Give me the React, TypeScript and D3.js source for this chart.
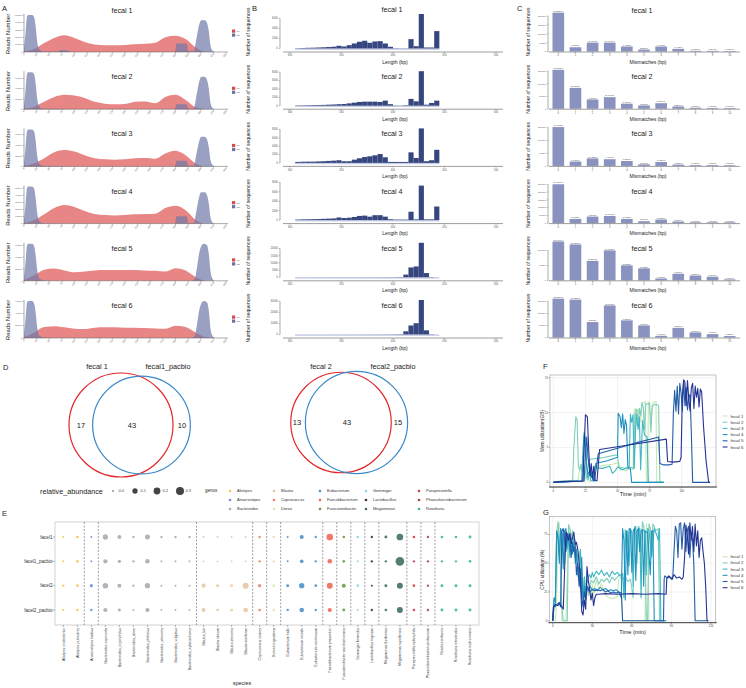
import React from "react";
import * as d3 from "d3";

const FONT = "'Liberation Sans', Arial, Helvetica, sans-serif";
const SAMPLES = ["fecal 1", "fecal 2", "fecal 3", "fecal 4", "fecal 5", "fecal 6"];
const rowAxis = (i: number) => 52 + 57.2 * i;
const rowTitle = (i: number) => (i === 0 ? 12.5 : rowAxis(i) - 30);

// ---------------- Panel A : reads number along position ----------------
const A_POS = [0, 20, 40, 60, 80, 100, 120, 140, 160, 180, 200, 220, 240, 260, 280, 300, 320, 340, 360, 380, 400];
const A_XTICKS = [0, 25, 50, 75, 100, 125, 150, 175, 200, 225, 250, 275, 300, 325, 350, 375, 400];
const A_YMAX = [50, 72, 70, 52, 62, 60]; // thousands
const A_R1 = [
  [1, 4, 12, 19, 22.5, 19, 13.5, 10, 9, 9, 9.5, 10.5, 11, 12.5, 20, 22, 17.5, 6, 0, 0, 0],
  [1.4, 5, 14.4, 23.8, 28, 26.6, 21.6, 14.4, 10.8, 9.4, 10, 14.4, 15, 11.5, 23.8, 28, 18, 3.6, 0, 0, 0],
  [1.4, 5.6, 15.4, 26.6, 30.8, 28, 21, 15.4, 13.3, 12.6, 13.3, 15.4, 16.1, 14.7, 24.5, 29.4, 21, 5.6, 0, 0, 0],
  [1, 4.7, 13, 21.8, 26, 23.4, 17.7, 13.5, 12, 11.4, 12, 13, 13.5, 14, 21.8, 25, 18.7, 5.2, 0, 0, 0],
  [1.2, 9.3, 18.6, 20.5, 17.4, 14.3, 15.5, 17.4, 18, 18, 18, 18, 17.4, 16.7, 15.5, 21, 17.4, 6.2, 0, 0, 0],
  [1.2, 9, 18, 19.2, 17.4, 15, 14.4, 16.8, 17.4, 17.4, 16.8, 16.8, 16.2, 15.6, 15, 19.8, 18, 9, 1.2, 0, 0],
];
const A_R2 = [
  [[0, 5], [3, 25], [6, 48], [8, 50], [16, 50], [20, 47], [23, 35], [26, 15], [29, 5], [34, 1.5], [40, 0.5], [65, 0.5], [72, 2.5], [85, 2.5], [92, 0.5], [100, 0], [299, 0], [302, 11.5], [322, 11.5], [325, 1], [336, 1], [342, 20], [347, 37], [351, 43], [358, 43], [362, 40], [366, 28], [369, 10], [373, 2], [378, 0], [400, 0]],
  [[0, 7], [3, 36], [6, 69], [8, 72], [16, 72], [20, 68], [23, 50], [26, 22], [29, 7], [34, 2], [40, 0.7], [100, 0], [299, 0], [302, 9.4], [322, 9.4], [325, 1], [336, 1], [342, 29], [347, 54], [351, 63], [358, 63], [362, 58], [366, 40], [369, 14], [373, 3], [378, 0], [400, 0]],
  [[0, 7], [3, 35], [6, 67], [8, 70], [16, 70], [20, 66], [23, 49], [26, 21], [29, 7], [34, 2], [40, 0.7], [100, 0], [299, 0], [302, 10.5], [322, 10.5], [325, 1], [336, 1], [342, 26], [347, 48], [351, 56], [358, 56], [362, 52], [366, 36], [369, 13], [373, 3], [378, 0], [400, 0]],
  [[0, 5], [3, 26], [6, 50], [8, 52], [16, 52], [20, 49], [23, 36], [26, 16], [29, 5], [34, 1.5], [40, 0.5], [100, 0], [299, 0], [302, 10.4], [322, 10.4], [325, 1], [336, 1], [342, 20], [347, 38], [351, 44], [358, 44], [362, 41], [366, 28], [369, 10], [373, 2], [378, 0], [400, 0]],
  [[0, 6], [3, 31], [6, 59], [8, 62], [16, 62], [20, 58], [23, 43], [26, 19], [29, 6], [34, 2], [40, 0.6], [100, 0], [330, 0], [338, 3], [343, 25], [347, 47], [351, 58], [356, 62], [362, 60], [366, 45], [369, 18], [373, 4], [378, 0], [400, 0]],
  [[0, 6], [3, 30], [6, 57], [8, 60], [16, 60], [20, 56], [23, 42], [26, 18], [29, 6], [34, 2], [40, 0.6], [100, 0], [330, 0], [338, 3], [343, 24], [347, 45], [351, 56], [356, 60], [362, 58], [366, 44], [369, 17], [373, 4], [378, 0], [400, 0]],
];
const A_LEGEND = ["R1", "R2"];

// ---------------- Panel B : length distribution ----------------
const B_XTICKS = [300, 350, 400, 450, 500];
const B_BINS = [305, 310, 315, 320, 325, 330, 335, 340, 345, 350, 355, 360, 365, 370, 375, 380, 385, 390, 395, 400, 405, 410, 415, 420, 425, 430, 435, 440];
const B_VALS = [
  [60, 100, 140, 160, 200, 240, 300, 360, 540, 400, 660, 1000, 1340, 1540, 1140, 1400, 1460, 1000, 340, 60, 40, 40, 1860, 460, 6860, 200, 200, 3460],
  [72, 96, 120, 145, 169, 193, 241, 289, 362, 410, 554, 723, 892, 964, 964, 964, 892, 1205, 362, 72, 48, 120, 1615, 1036, 8200, 241, 651, 1205],
  [234, 281, 304, 304, 351, 398, 468, 538, 632, 398, 398, 772, 1100, 1404, 1568, 1802, 2106, 1334, 234, 234, 234, 234, 2504, 1170, 8200, 398, 632, 3112],
  [110, 155, 177, 199, 221, 265, 309, 354, 553, 442, 508, 663, 884, 950, 729, 1039, 1039, 729, 177, 110, 110, 110, 1768, 155, 7300, 155, 155, 2873],
  [40, 40, 40, 50, 50, 50, 60, 60, 70, 70, 70, 80, 80, 90, 90, 100, 110, 120, 130, 150, 200, 1850, 6860, 7550, 24000, 2950, 210, 0],
  [40, 40, 40, 50, 50, 50, 60, 60, 70, 70, 80, 80, 90, 100, 110, 120, 130, 150, 170, 200, 300, 2860, 8070, 10160, 31000, 3730, 260, 0],
];
const B_STEP = [2000, 2000, 2000, 2000, 5000, 10000];
const B_TICKMAX = [6000, 8000, 8000, 8000, 20000, 30000];

// ---------------- Panel C : mismatches ----------------
const C_MISMATCH = [0, 1, 2, 3, 4, 5, 6, 7, 8, 9, 10];
const C_VALS = [
  [218500, 24000, 50000, 50000, 28000, 11000, 28000, 15000, 4000, 3500, 3000],
  [155000, 83000, 37000, 46000, 20000, 13000, 22000, 9000, 4000, 3000, 2500],
  [151000, 17000, 29000, 26000, 19000, 6000, 15000, 5000, 3000, 3000, 2500],
  [250000, 27000, 42000, 46000, 27000, 12000, 23000, 10000, 5000, 5000, 5000],
  [130000, 120000, 65000, 100000, 50000, 40000, 6000, 22000, 16000, 12000, 3000],
  [161000, 157000, 64000, 133000, 71000, 50000, 7000, 40000, 21000, 14000, 6000],
];

// ---------------- Panel D : Venn ----------------
const VENN_NAMES = [["fecal 1", "fecal1_pacbio"], ["fecal 2", "fecal2_pacbio"]];
const VENN_COUNTS = [[17, 43, 10], [13, 43, 15]];

// ---------------- Panel E : bubble plot ----------------
const E_SAMPLES = ["facel1", "facel1_pacbio", "facel2", "facel2_pacbio"];
const E_SPECIES = [
  "Alistipes onderdonkii", "Alistipes putredinis", "Anaerostipes hadrus", "Bacteroides coprocola", "Bacteroides_coprophilus",
  "Bacteroides_dorei", "Bacteroides_plebeius", "Bacteroides_stercoris", "Bacteroides_vulgatus", "Bacteroides_xylanisolvens",
  "Blautia_luti", "Blautia obeum", "Blautia stercoris", "Blautia wexlerae", "Coprococcus comes", "Dorea longicatena",
  "Eubacterium hallii", "Eubacterium rectale", "Eubacterium ventriosum", "Faecalibacterium prausnitzii",
  "Fusicatenibacter saccharivorans", "Gemmiger formicilis", "Lactobacillus rogosae", "Megamonas funiformis",
  "Megamonas rupellensis", "Paraprevotella xylaniphila", "Phascolarctobacterium faecium", "Roseburia faecis",
  "Roseburia intestinalis", "Roseburia inulinivorans",
];
const E_GENUS_OF = [
  "Alistipes", "Alistipes", "Anaerostipes", "Bacteroides", "Bacteroides", "Bacteroides", "Bacteroides", "Bacteroides", "Bacteroides", "Bacteroides",
  "Blautia", "Blautia", "Blautia", "Blautia", "Coprococcus", "Dorea", "Eubacterium", "Eubacterium", "Eubacterium", "Faecalibacterium",
  "Fusicatenibacter", "Gemmiger", "Lactobacillus", "Megamonas", "Megamonas", "Paraprevotella", "Phascolarctobacterium", "Roseburia", "Roseburia", "Roseburia",
];
const E_GENERA = [
  "Alistipes", "Anaerostipes", "Bacteroides", "Blautia", "Coprococcus", "Dorea", "Eubacterium", "Faecalibacterium",
  "Fusicatenibacter", "Gemmiger", "Lactobacillus", "Megamonas", "Paraprevotella", "Phascolarctobacterium", "Roseburia",
];
const E_GENUS_COLORS = [
  "#f3c744", "#7093dc", "#aaabb4", "#e6c6a2", "#f07f5f", "#e4e2b2", "#4b91c9", "#ee6a56",
  "#6b9a4e", "#91d1ee", "#4c2a44", "#41705f", "#d53a4a", "#a6464a", "#42b4a6",
];
const E_ABUND = [
  [0.001, 0.008, 0.001, 0.1, 0.042, 0.004, 0.085, 0.004, 0.004, 0.004, 0.0005, 0.0005, 0.0005, 0.0005, 0.004, 0.004, 0.001, 0.042, 0.004, 0.19, 0.008, 0.008, 0.004, 0.014, 0.19, 0.008, 0.004, 0.008, 0.008, 0.014],
  [0.001, 0.008, 0.001, 0.05, 0.02, 0.004, 0.065, 0.001, 0.001, 0.001, 0.0005, 0.0005, 0.0005, 0.0005, 0.004, 0.004, 0.001, 0.03, 0.004, 0.065, 0.008, 0.001, 0.004, 0.004, 0.36, 0.004, 0.004, 0.004, 0.004, 0.008],
  [0.004, 0.008, 0.02, 0.115, 0.042, 0.004, 0.1, 0.001, 0.001, 0.001, 0.05, 0.014, 0.008, 0.14, 0.02, 0.008, 0.014, 0.1, 0.008, 0.14, 0.042, 0.008, 0.001, 0.014, 0.14, 0.008, 0.004, 0.014, 0.014, 0.014],
  [0.001, 0.004, 0.008, 0.05, 0.014, 0.001, 0.05, 0.0005, 0.0005, 0.0005, 0.042, 0.008, 0.008, 0.065, 0.008, 0.008, 0.004, 0.065, 0.004, 0.05, 0.014, 0.001, 0.004, 0.008, 0.14, 0.008, 0.004, 0.014, 0.014, 0.014],
];
const E_SIZE_BREAKS = [0.0, 0.1, 0.2, 0.3];

// ---------------- Panels F / G : resource usage ----------------
const LINE_COLORS = ["#c7e9b4", "#7fcdbb", "#41b6c4", "#1d91c0", "#225ea8", "#253494"];
const F_XTICKS = [0, 25, 50, 75, 100];
const F_YTICKS = [0, 5, 10, 15];
const F_MEM = [
  [[0, 0], [5, 0.2], [16, 0.2], [19, 0.3], [20, 1.2], [21, 2.4], [22, 1.6], [23, 2.6], [24, 1.4], [25, 0.6], [27, 0.2], [29, 0.1], [30, 2.2], [38, 2.4], [46, 2.6], [51, 2.8], [52, 1.7], [54, 1.9], [56, 1.6], [58, 1.8], [60, 1.9], [62, 1.8], [63, 10.4], [64, 10.6], [65, 8.2], [66, 10.5], [67, 10.2], [68, 8.6], [69, 11.4], [70, 11.5], [71.5, 11.6], [72.5, 0], [73.5, 0], [74, 11.6], [76, 9.2], [78, 11.5], [80, 11.6], [80.5, 0], [86, 0]],
  [[0, 0], [8, 0.2], [15, 0.3], [16, 5], [17.5, 9.4], [18.5, 9.0], [19.5, 2.2], [20.5, 1.8], [21.5, 2.6], [22.5, 1.6], [24, 2.4], [26, 0.6], [28, 3.3], [40, 3.6], [48, 3.9], [50, 3.9], [51, 2.2], [54, 2.1], [57, 1.9], [60, 2.2], [62.5, 2.0], [63.5, 9.8], [65, 10.5], [66, 8.4], [67, 10.6], [68, 9.6], [69, 11.4], [70, 10.8], [71, 7.6], [72, 11.3], [74, 11.2], [75, 11.4], [76, 7.2], [77, 11.0], [80, 11.2], [82, 11.0], [83, 0], [86, 0]],
  [[0, 0], [10, 0.1], [22, 0.2], [23, 4.5], [24, 7.2], [25, 6.4], [26, 2.0], [27, 0.4], [28, 1.6], [29, 0.3], [31, 0.2], [32, 2.1], [38, 2.0], [44, 2.3], [46, 1.3], [48, 1.6], [50, 2.2], [54, 1.8], [57, 2.1], [59, 2.0], [60, 9.8], [61, 8.6], [62, 9.7], [63, 2.0], [64.5, 9.8], [66, 7.6], [67, 9.4], [68, 1.8], [69.5, 8.9], [71, 6.8], [73, 6.5], [74, 0], [86, 0]],
  [[0, 0], [10, 0.1], [23, 0.2], [24, 6.8], [25, 5.4], [26, 2.4], [27, 1.2], [29, 1.8], [31, 0.2], [33, 2.7], [42, 3.1], [50, 3.6], [50.5, 9.9], [52, 9.4], [53, 7.8], [54, 9.8], [55, 7.0], [56, 9.0], [57, 8.2], [58, 2.2], [60, 2.0], [61, 0], [86, 0]],
  [[0, 0], [12, 0.1], [24, 0.2], [25, 4.0], [26, 6.5], [27, 3.5], [29, 1.0], [32, 0.2], [35, 4.1], [50, 4.9], [65, 5.7], [80, 6.4], [82, 6.5], [83, 2.7], [86, 2.5], [90, 2.5], [92.5, 2.6], [93.5, 10], [94.5, 13.2], [95.5, 10.2], [96.5, 13.8], [97.5, 9.8], [98.5, 14.2], [99.5, 12.8], [100.5, 10.2], [101.5, 14.6], [102.5, 11], [103.5, 13.6], [104.5, 10.4], [105.5, 12.2], [106.5, 12.6], [107.5, 7], [108.5, 0], [122, 0]],
  [[0, 0], [5, 0.1], [23, 0.2], [24, 5], [25, 9.7], [26.5, 9.4], [27.5, 5], [28.5, 1.0], [29.5, 2.7], [30.5, 0.6], [31.5, 2.3], [32.5, 0.3], [34, 0.2], [36, 4.7], [60, 5.4], [88, 6.2], [89, 3.0], [93, 2.9], [98.5, 3.0], [99.5, 3.6], [100.5, 12.5], [101.5, 14.7], [102.5, 14.4], [103.5, 11], [104.5, 14.6], [105.5, 12], [106.5, 10.2], [107.5, 13.6], [108.5, 14.2], [109.5, 10.6], [110.5, 13.8], [111.5, 12.2], [112.5, 13.5], [113.5, 10.8], [114.5, 13.4], [115.5, 13], [117, 8], [119, 3], [121, 0], [122, 0]],
];
const G_XTICKS = [0, 30, 60, 90, 120];
const G_YTICKS = [0, 25, 50, 75];
const G_CPU = [
  [[0, 0], [2, 0], [3, 20], [4, 82], [5, 85], [6, 50], [7, 0], [10, 0], [11, 40], [12, 84], [13, 78], [14, 60], [15, 75], [16, 70], [17, 55], [18, 60], [19, 45], [20, 48], [21, 30], [22, 40], [23, 22], [24, 35], [25, 15], [26, 28], [27, 25], [28, 30], [29, 18], [30, 32], [31, 22], [32, 30], [33, 35], [35, 28], [37, 32], [39, 25], [41, 21], [43, 20], [45, 19], [47, 20], [49, 21], [50, 36], [52, 38], [53, 0], [70, 0], [71, 84], [72, 70], [73, 0], [80, 0]],
  [[0, 0], [1, 18], [2, 20], [3, 75], [4, 86], [5, 70], [6, 40], [7, 10], [8, 0], [11, 0], [12, 83], [13, 80], [14, 72], [15, 78], [16, 65], [17, 70], [18, 55], [20, 60], [21, 35], [22, 45], [23, 25], [24, 38], [25, 20], [26, 30], [27, 22], [29, 35], [31, 33], [33, 38], [35, 32], [37, 36], [39, 34], [41, 37], [43, 33], [45, 38], [47, 35], [49, 38], [51, 40], [53, 36], [55, 38], [57, 34], [59, 36], [61, 20], [62, 82], [63, 75], [64, 50], [65, 82], [66, 80], [67, 45], [68, 86], [69, 82], [70, 60], [71, 0], [72, 0], [73, 84], [74, 80], [75, 55], [76, 84], [77, 82], [78, 78], [80, 80], [81, 0], [84, 0]],
  [[0, 0], [1, 15], [2, 12], [3, 78], [4, 75], [5, 55], [6, 80], [7, 60], [8, 76], [9, 50], [10, 78], [11, 62], [12, 72], [13, 55], [14, 70], [15, 60], [16, 72], [17, 50], [18, 58], [19, 48], [20, 40], [21, 62], [22, 30], [23, 20], [24, 38], [25, 25], [26, 32], [27, 38], [28, 40], [29, 37], [30, 42], [31, 38], [33, 43], [35, 40], [37, 44], [39, 39], [41, 42], [43, 38], [45, 43], [47, 40], [49, 42], [51, 39], [53, 41], [54, 20], [55, 79], [56, 60], [57, 78], [58, 48], [59, 80], [60, 76], [61, 30], [62, 78], [63, 82], [64, 62], [65, 79], [66, 80], [67, 20], [68, 79], [70, 78], [71, 40], [72, 80], [73, 78], [75, 56], [77, 80], [79, 74], [80, 70], [81, 80], [82, 0], [86, 0]],
  [[0, 0], [1, 20], [2, 16], [3, 78], [4, 72], [5, 50], [6, 80], [7, 75], [8, 45], [9, 78], [10, 80], [11, 68], [12, 75], [13, 60], [14, 72], [15, 58], [16, 65], [17, 55], [18, 62], [19, 40], [20, 35], [21, 28], [22, 55], [23, 15], [24, 30], [25, 22], [26, 28], [27, 26], [28, 30], [30, 27], [32, 28], [34, 26], [36, 29], [38, 27], [40, 28], [42, 26], [44, 27], [46, 26], [48, 27], [50, 25], [52, 20], [53, 80], [54, 70], [55, 18], [56, 78], [57, 40], [58, 80], [59, 79], [60, 42], [61, 78], [62, 80], [63, 35], [64, 78], [65, 80], [66, 60], [67, 78], [68, 79], [69, 30], [70, 78], [72, 76], [74, 40], [75, 78], [76, 78], [77, 0], [86, 0]],
  [[0, 0], [1, 12], [3, 14], [5, 16], [6, 12], [7, 78], [8, 80], [9, 70], [10, 60], [11, 76], [12, 70], [13, 72], [14, 55], [15, 68], [16, 60], [17, 65], [18, 40], [19, 50], [20, 30], [21, 45], [22, 20], [23, 12], [24, 25], [25, 18], [26, 30], [27, 28], [28, 25], [30, 27], [32, 26], [34, 27], [36, 26], [38, 27], [40, 25], [42, 26], [44, 24], [46, 25], [48, 24], [50, 25], [52, 24], [53, 0], [84, 0], [84.5, 36], [85, 39], [87, 37], [89, 38], [91, 36], [92, 60], [93, 82], [94, 78], [95, 55], [96, 84], [97, 85], [98, 62], [99, 80], [100, 85], [101, 60], [102, 78], [103, 82], [104, 55], [105, 76], [106, 70], [107, 50], [108, 0], [118, 0]],
  [[0, 0], [0.5, 12], [2, 14], [4, 13], [5, 15], [7, 12], [8, 10], [10, 77], [11, 73], [12, 70], [13, 76], [14, 67], [15, 72], [16, 77], [17, 66], [18, 68], [19, 62], [20, 50], [21, 35], [22, 8], [23, 5], [24, 18], [25, 10], [26, 47], [27, 35], [28, 27], [29, 18], [30, 24], [31, 13], [32, 20], [33, 23], [35, 23], [40, 23.5], [50, 23], [60, 23.5], [70, 23], [80, 23.5], [86, 23], [86.5, 37], [88, 39], [90, 36], [92, 40], [94, 37], [96, 38], [98, 36], [99, 38], [100, 55], [101, 83], [102, 75], [103, 58], [104, 85], [105, 70], [106, 82], [107, 60], [108, 84], [109, 65], [110, 78], [111, 55], [112, 70], [113, 72], [114, 60], [115, 50], [116, 30], [117, 0], [118, 0]],
];

// ======================================================================
const AXIS = "#5a5a5a";
const TXT = "#222";

function PanelA() {
  const x = d3.scaleLinear().domain([0, 400]).range([24, 226]);
  return (
    <g>
      <text x={2} y={11} fontSize={7.5} fill={TXT}>A</text>
      {SAMPLES.map((s, i) => {
        const ay = rowAxis(i);
        const y = d3.scaleLinear().domain([0, A_YMAX[i]]).range([ay, ay - 37]);
        const red = d3.area<number>().x((_, j) => x(A_POS[j])).y0(ay).y1((d) => y(d)).curve(d3.curveMonotoneX)(A_R1[i]) || "";
        const blue = d3.area<number[]>().x((d) => x(d[0])).y0(ay).y1((d) => y(d[1])).curve(d3.curveMonotoneX)(A_R2[i] as number[][]) || "";
        const yt = y.ticks(4);
        return (
          <g key={s}>
            <path d={red} fill="#e05c5c" fillOpacity={0.75} />
            <path d={blue} fill="#6f77a8" fillOpacity={0.7} />
            <line x1={24} x2={228} y1={ay} y2={ay} stroke={AXIS} strokeWidth={0.5} />
            <line x1={24} x2={24} y1={ay - 38} y2={ay} stroke={AXIS} strokeWidth={0.5} />
            {A_XTICKS.map((t) => (
              <g key={t}>
                <line x1={x(t)} x2={x(t)} y1={ay} y2={ay + 1.5} stroke={AXIS} strokeWidth={0.4} />
                <text transform={`translate(${x(t) + 0.8},${ay + 2.5}) rotate(-45)`} textAnchor="end" fontSize={2.4} fill="#555">{t}</text>
              </g>
            ))}
            {yt.map((t) => (
              <g key={t}>
                <line x1={22.8} x2={24} y1={y(t)} y2={y(t)} stroke={AXIS} strokeWidth={0.4} />
                <text x={22} y={y(t) + 0.8} textAnchor="end" fontSize={2.4} fill="#555">{t * 1000}</text>
              </g>
            ))}
            <text transform={`translate(10,${ay - 18}) rotate(-90)`} textAnchor="middle" fontSize={6} fill={TXT}>Reads Number</text>
            <text x={122} y={rowTitle(i)} textAnchor="middle" fontSize={7.2} fill={TXT}>{s}</text>
            {A_LEGEND.map((l, k) => (
              <g key={l}>
                <rect x={232} y={ay - 22.5 + k * 4} width={3.2} height={3.2} fill={k === 0 ? "#d94a4a" : "#6a72a6"} />
                <text x={236.5} y={ay - 20 + k * 4} fontSize={2.4} fill="#555">{l}</text>
              </g>
            ))}
          </g>
        );
      })}
    </g>
  );
}

function PanelB() {
  const x = d3.scaleLinear().domain([300, 500]).range([290, 496]);
  const bw = x(305) - x(300);
  return (
    <g>
      <text x={252} y={11} fontSize={7.5} fill={TXT}>B</text>
      {SAMPLES.map((s, i) => {
        const ay = rowAxis(i);
        const base = ay - 3.5;
        const vals = B_VALS[i];
        const y = d3.scaleLinear().domain([0, d3.max(vals) || 1]).range([base, base - 34.5]);
        const ticks = d3.range(0, B_TICKMAX[i] + 1, B_STEP[i]);
        return (
          <g key={s}>
            <rect x={x(B_BINS[0])} y={base} width={x(B_BINS[B_BINS.length - 1] + 5) - x(B_BINS[0])} height={1.3} fill="#c3cae4" />
            {vals.map((v, k) => (
              <rect key={k} x={x(B_BINS[k])} y={y(v)} width={bw} height={base - y(v)} fill="#36467e" />
            ))}
            <line x1={283} x2={503} y1={ay} y2={ay} stroke={AXIS} strokeWidth={0.6} />
            <line x1={280} x2={280} y1={y(B_TICKMAX[i])} y2={base} stroke={AXIS} strokeWidth={0.5} />
            {B_XTICKS.map((t) => (
              <g key={t}>
                <line x1={x(t)} x2={x(t)} y1={ay} y2={ay + 1.3} stroke={AXIS} strokeWidth={0.4} />
                <text x={x(t)} y={ay + 4.2} textAnchor="middle" fontSize={2.6} fill="#555">{t}</text>
              </g>
            ))}
            {ticks.map((t) => (
              <g key={t}>
                <line x1={278.8} x2={280} y1={y(t)} y2={y(t)} stroke={AXIS} strokeWidth={0.4} />
                <text x={277.8} y={y(t) + 0.9} textAnchor="end" fontSize={2.6} fill="#555">{t}</text>
              </g>
            ))}
            <text transform={`translate(250,${ay - 20}) rotate(-90)`} textAnchor="middle" fontSize={5} fill={TXT}>Number of sequences</text>
            <text x={395} y={ay + 11.5} textAnchor="middle" fontSize={5} fill={TXT}>Length (bp)</text>
            <text x={392} y={i === 0 ? 11.5 : rowTitle(i)} textAnchor="middle" fontSize={7.2} fill={TXT}>{s}</text>
          </g>
        );
      })}
    </g>
  );
}

function PanelC() {
  const x = d3.scaleBand<string>().domain(C_MISMATCH.map(String)).range([547, 741]).padding(0.32);
  return (
    <g>
      <text x={517} y={11} fontSize={7.5} fill={TXT}>C</text>
      {SAMPLES.map((s, i) => {
        const ay = rowAxis(i);
        const vals = C_VALS[i];
        const total = d3.sum(vals);
        const mx = d3.max(vals) || 1;
        const y = d3.scaleLinear().domain([0, mx * 1.03]).range([ay - 0.5, ay - 40.5]);
        const ticks = d3.range(0, mx * 1.03 + 1, 50000);
        return (
          <g key={s}>
            {vals.map((v, k) => {
              const cx = (x(String(k)) || 0);
              return (
                <g key={k}>
                  <rect x={cx} y={y(v)} width={x.bandwidth()} height={ay - 0.5 - y(v)} fill="#8a93bf" />
                  <text x={cx + x.bandwidth() / 2} y={y(v) - 0.8} textAnchor="middle" fontSize={2.1} fill="#444">{((v / total) * 100).toFixed(4)}%</text>
                </g>
              );
            })}
            <line x1={549} x2={740} y1={ay} y2={ay} stroke={AXIS} strokeWidth={0.6} />
            <line x1={548} x2={548} y1={y(ticks[ticks.length - 1])} y2={ay} stroke={AXIS} strokeWidth={0.5} />
            {C_MISMATCH.map((m) => {
              const cx = (x(String(m)) || 0) + x.bandwidth() / 2;
              return (
                <g key={m}>
                  <line x1={cx} x2={cx} y1={ay} y2={ay + 1.3} stroke={AXIS} strokeWidth={0.4} />
                  <text x={cx} y={ay + 4.3} textAnchor="middle" fontSize={2.6} fill="#555">{m}</text>
                </g>
              );
            })}
            {ticks.map((t) => (
              <g key={t}>
                <line x1={546.8} x2={548} y1={y(t)} y2={y(t)} stroke={AXIS} strokeWidth={0.4} />
                <text x={546} y={y(t) + 0.9} textAnchor="end" fontSize={2.4} fill="#555">{t}</text>
              </g>
            ))}
            <text transform={`translate(530,${ay - 20}) rotate(-90)`} textAnchor="middle" fontSize={5} fill={TXT}>Number of sequences</text>
            <text x={648} y={ay + 11.5} textAnchor="middle" fontSize={5} fill={TXT}>Mismatches (bp)</text>
            <text x={642} y={i === 0 ? 12.5 : rowTitle(i)} textAnchor="middle" fontSize={7.2} fill={TXT}>{s}</text>
          </g>
        );
      })}
    </g>
  );
}

function PanelD() {
  const r = d3.scaleSqrt().domain([0, 60]).range([0, 52]);
  const layouts = [
    { cx: 121, cy: 425, d: 20.5, tx: [97, 168], nx: [81, 132, 182] },
    { cx: 341, cy: 422.5, d: 15.5, tx: [321, 393], nx: [297, 347, 398] },
  ];
  return (
    <g>
      <text x={3} y={370} fontSize={7.5} fill={TXT}>D</text>
      {VENN_COUNTS.map((c, i) => {
        const L = layouts[i];
        const rA = r(c[0] + c[1]);
        const rB = r(c[1] + c[2]);
        return (
          <g key={i}>
            <circle cx={L.cx} cy={L.cy} r={rA} fill="none" stroke="#e3262b" strokeWidth={1.2} />
            <circle cx={L.cx + L.d} cy={L.cy} r={rB} fill="none" stroke="#3a88c9" strokeWidth={1.2} />
            <text x={L.tx[0]} y={368.5} textAnchor="middle" fontSize={7.3} fill={TXT}>{VENN_NAMES[i][0]}</text>
            <text x={L.tx[1]} y={368.5} textAnchor="middle" fontSize={7.3} fill={TXT}>{VENN_NAMES[i][1]}</text>
            {c.map((n, k) => (
              <text key={k} x={L.nx[k]} y={L.cy + 2.7} textAnchor="middle" fontSize={7.5} fill={TXT}>{n}</text>
            ))}
          </g>
        );
      })}
    </g>
  );
}

function PanelE() {
  const x = d3.scalePoint<string>().domain(E_SPECIES).range([63.3, 470]);
  const y = d3.scalePoint<string>().domain(E_SAMPLES).range([537, 610]);
  const size = d3.scaleSqrt().domain([0, 0.3]).range([0.8, 4]);
  const color = d3.scaleOrdinal<string, string>().domain(E_GENERA).range(E_GENUS_COLORS);
  const seps: number[] = [];
  for (let k = 1; k < E_SPECIES.length; k++) {
    if (E_GENUS_OF[k] !== E_GENUS_OF[k - 1]) seps.push(((x(E_SPECIES[k]) || 0) + (x(E_SPECIES[k - 1]) || 0)) / 2);
  }
  const legCols = [230, 274, 320, 366, 419];
  const legRows = [491, 500, 509];
  const sizeX = [113, 135, 157, 180];
  return (
    <g>
      <text x={40} y={493.5} fontSize={7.2} fill={TXT}>relative_abundance</text>
      {E_SIZE_BREAKS.map((b, k) => (
        <g key={b}>
          <circle cx={sizeX[k]} cy={491} r={size(b)} fill="#444" />
          <text x={sizeX[k] + 5.5} y={492.4} fontSize={4} fill="#444">{b.toFixed(1)}</text>
        </g>
      ))}
      <text x={205} y={492} fontSize={4.5} fill={TXT}>genus</text>
      {E_GENERA.map((g, k) => {
        const cx = legCols[Math.floor(k / 3)];
        const cy = legRows[k % 3];
        return (
          <g key={g}>
            <circle cx={cx} cy={cy} r={1.3} fill={color(g)} />
            <text x={cx + 7} y={cy + 1.4} fontSize={4} fill="#333">{g}</text>
          </g>
        );
      })}
      <text x={2} y={516} fontSize={7.5} fill={TXT}>E</text>
      <rect x={55} y={522} width={424} height={103} fill="#fff" stroke="#c8c8c8" strokeWidth={0.8} />
      {seps.map((s, k) => (
        <line key={k} x1={s} x2={s} y1={522} y2={625} stroke="#444" strokeWidth={0.5} strokeDasharray="2,1.5" />
      ))}
      {E_SAMPLES.map((smp, r) => (
        <g key={smp}>
          <line x1={53} x2={55} y1={y(smp)} y2={y(smp)} stroke="#444" strokeWidth={0.4} />
          <text x={52.5} y={(y(smp) || 0) + 1.6} textAnchor="end" fontSize={4.6} fill="#333">{smp}</text>
          {E_SPECIES.map((sp, k) => (
            <circle key={sp} cx={x(sp)} cy={y(smp)} r={size(E_ABUND[r][k])} fill={color(E_GENUS_OF[k])} fillOpacity={0.9} />
          ))}
        </g>
      ))}
      {E_SPECIES.map((sp) => (
        <g key={sp}>
          <line x1={x(sp)} x2={x(sp)} y1={625} y2={627} stroke="#444" strokeWidth={0.4} />
          <text transform={`translate(${(x(sp) || 0) + 1.2},628) rotate(-90)`} textAnchor="end" fontSize={3.6} fill="#333">{sp}</text>
        </g>
      ))}
      <text x={242} y={685} textAnchor="middle" fontSize={5.4} fill={TXT}>species</text>
    </g>
  );
}

function LinePanel(props: {
  label: string; labelY: number; data: number[][][]; xr: number[]; yr: number[]; xd: number[]; yd: number[];
  xticks: number[]; yticks: number[]; ylab: string; legY: number; xlabY: number;
}) {
  const { data, xr, yr, xd, yd, xticks, yticks } = props;
  const x = d3.scaleLinear().domain(xd).range(xr);
  const y = d3.scaleLinear().domain(yd).range(yr);
  const line = d3.line<number[]>().x((d) => x(d[0])).y((d) => y(d[1]));
  return (
    <g>
      <text x={543} y={props.labelY} fontSize={7.5} fill={TXT}>{props.label}</text>
      <rect x={xr[0]} y={yr[1]} width={xr[1] - xr[0]} height={yr[0] - yr[1]} fill="#fff" stroke="#a8a8a8" strokeWidth={0.7} />
      {xticks.map((t) => (
        <line key={"gx" + t} x1={x(t)} x2={x(t)} y1={yr[1]} y2={yr[0]} stroke="#e6e6e6" strokeWidth={0.5} />
      ))}
      {yticks.map((t) => (
        <line key={"gy" + t} x1={xr[0]} x2={xr[1]} y1={y(t)} y2={y(t)} stroke="#e6e6e6" strokeWidth={0.5} />
      ))}
      {data.map((s, k) => (
        <path key={k} d={line(s) || ""} fill="none" stroke={LINE_COLORS[k]} strokeWidth={1.1} strokeLinejoin="round" />
      ))}
      <line x1={xr[0] - 1} x2={xr[1] + 1} y1={yr[0]} y2={yr[0]} stroke="#333" strokeWidth={0.9} />
      {xticks.map((t) => (
        <g key={"tx" + t}>
          <line x1={x(t)} x2={x(t)} y1={yr[0]} y2={yr[0] + 1.5} stroke="#333" strokeWidth={0.4} />
          <text x={x(t)} y={yr[0] + 4.6} textAnchor="middle" fontSize={2.8} fill="#444">{t}</text>
        </g>
      ))}
      {yticks.map((t) => (
        <g key={"ty" + t}>
          <line x1={xr[0] - 1.3} x2={xr[0]} y1={y(t)} y2={y(t)} stroke="#333" strokeWidth={0.4} />
          <text x={xr[0] - 2} y={y(t) + 1} textAnchor="end" fontSize={2.8} fill="#444">{t}</text>
        </g>
      ))}
      <text x={(xr[0] + xr[1]) / 2} y={props.xlabY} textAnchor="middle" fontSize={5.6} fill={TXT}>Time (min)</text>
      <text transform={`translate(544,${(yr[0] + yr[1]) / 2}) rotate(-90)`} textAnchor="middle" fontSize={4.8} fill={TXT}>{props.ylab}</text>
      {SAMPLES.map((s, k) => (
        <g key={s}>
          <line x1={722.7} x2={727.5} y1={props.legY + k * 6.2} y2={props.legY + k * 6.2} stroke={LINE_COLORS[k]} strokeWidth={1.1} />
          <text x={730.5} y={props.legY + k * 6.2 + 1.5} fontSize={4.4} fill="#333">{s}</text>
        </g>
      ))}
    </g>
  );
}

export default function App() {
  return (
    <svg width={746} height={688} viewBox="0 0 746 688" style={{ position: "absolute", left: 0, top: 0, display: "block" }} fontFamily={FONT}>
      <rect x={0} y={0} width={746} height={688} fill="#fff" />
      <PanelA />
      <PanelB />
      <PanelC />
      <PanelD />
      <PanelE />
      <LinePanel label="F" labelY={369} data={F_MEM} xr={[550, 716]} yr={[487, 375]} xd={[-2.6, 126.7]} yd={[-0.67, 15.4]}
        xticks={F_XTICKS} yticks={F_YTICKS} ylab="Mem utilization(GB)" legY={416} xlabY={496} />
      <LinePanel label="G" labelY={515} data={G_CPU} xr={[549.3, 715.7]} yr={[622.7, 516.7]} xd={[-2.6, 123.6]} yd={[-1.7, 90.3]}
        xticks={G_XTICKS} yticks={G_YTICKS} ylab="CPU utilization (%)" legY={556.7} xlabY={634} />
    </svg>
  );
}
